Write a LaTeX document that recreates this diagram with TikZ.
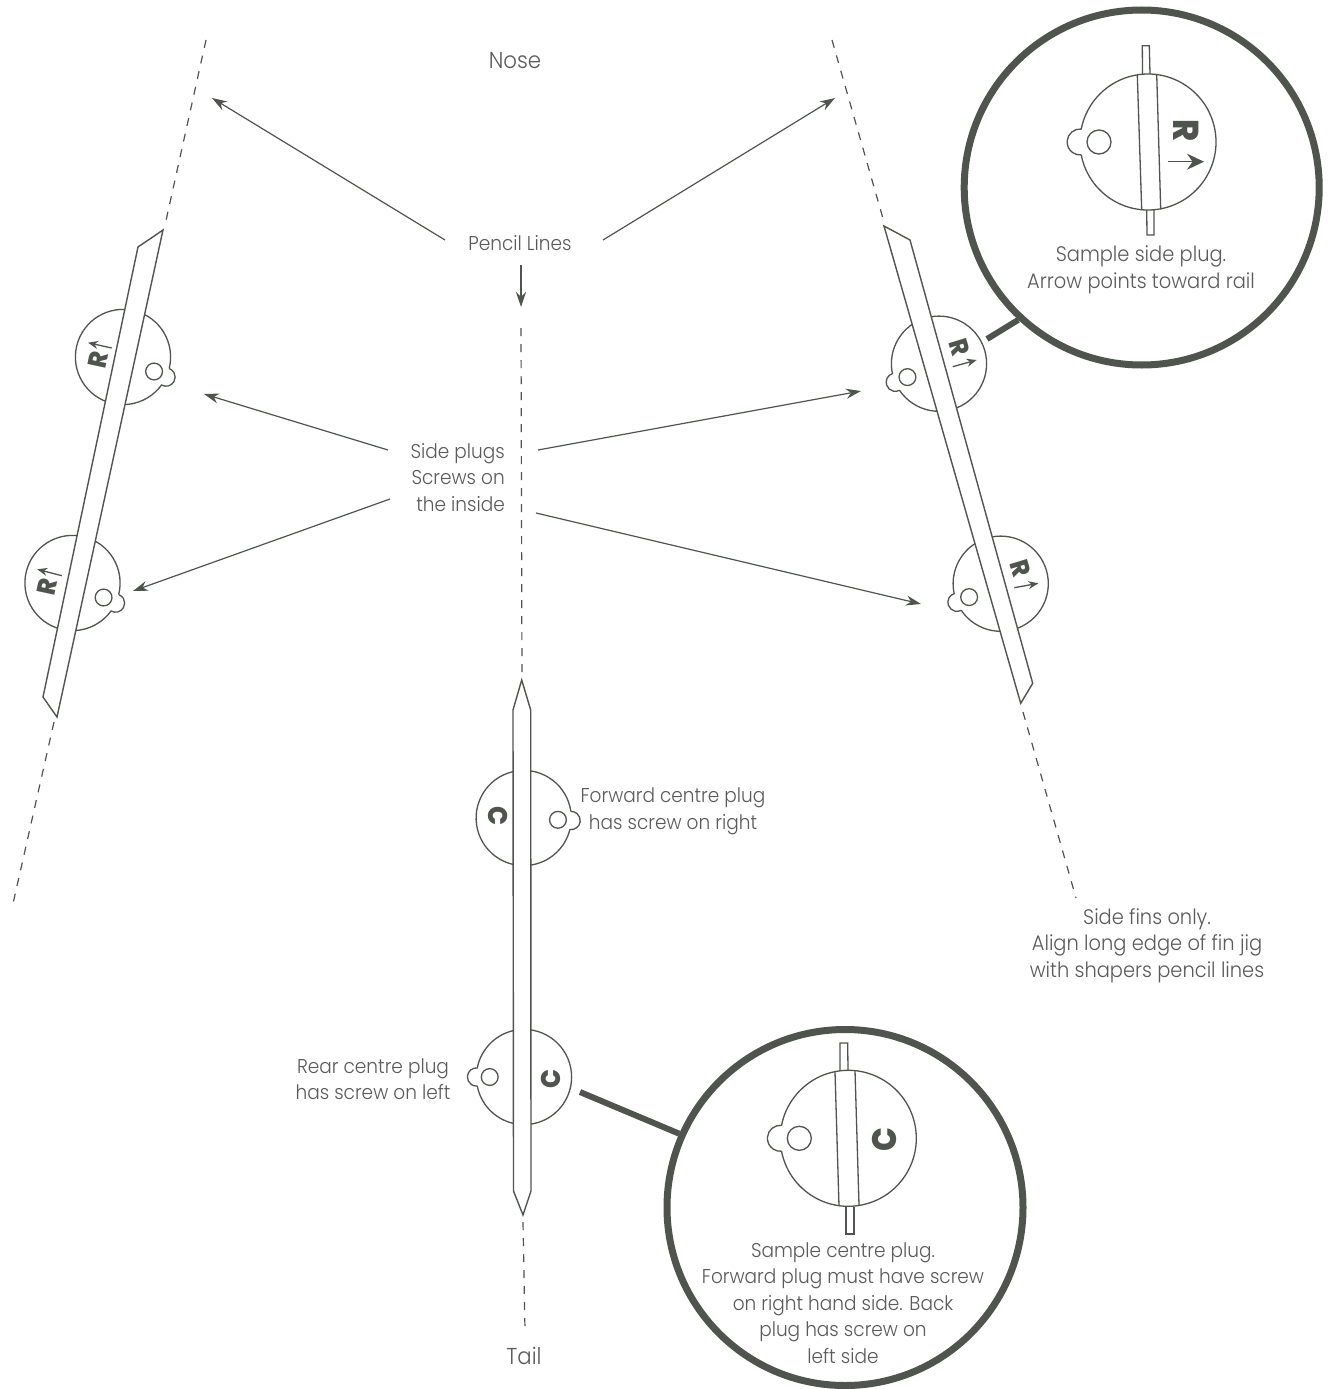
\documentclass[tikz,border=0pt]{standalone}
\usepackage{fontspec}
\setmainfont{Poppins}[UprightFont=* Light,BoldFont=* ExtraBold,FakeStretch=0.925]
\usetikzlibrary{arrows.meta}
\definecolor{ink}{HTML}{4F554E}
\definecolor{txt}{HTML}{5A5A5A}
\tikzset{
  thinline/.style={draw=ink,line width=1.3pt},
  dashline/.style={draw=ink,line width=1.2pt,dash pattern=on 8pt off 8pt},
  pointer/.style={draw=ink,line width=1.2pt,-{Stealth[length=15pt,width=10pt]}},
  finbody/.style={draw=ink,line width=1.4pt,fill=white,line join=miter},
  ring/.style={circle,draw=ink,line width=7pt,fill=white,inner sep=0pt},
  leader/.style={draw=ink,line width=6pt},
  caption/.style={text=txt,inner sep=0pt,align=center,font=\fontsize{20}{26.5}\selectfont},
  bigcaption/.style={text=txt,inner sep=0pt,align=center,font=\fontsize{21}{26.5}\selectfont},
  rmark/.style={text=ink,inner sep=0pt,font=\bfseries\fontsize{#1}{#1}\selectfont},
  rmark/.default=26,
  tinyarrow/.style={thinline,-{Stealth[length=10pt,width=8pt]}}
}
\newcommand{\plugbody}[4]{%
  \begin{scope}[shift={(#1,#2)},rotate=#3,x=#4pt,y=#4pt]
    \draw[thinline,fill=white] (11:68) arc[start angle=11,end angle=349,radius=68]
      arc[start angle=-95,end angle=95,radius=13];
    \draw[thinline] (49,0) circle[radius=12];
  \end{scope}}
\begin{document}
\begin{tikzpicture}[x=1pt,y=-1pt]
\useasboundingbox[fill=white] (0,0) rectangle (1330,1389);
% named end points
\coordinate (pa) at (445,240); \coordinate (pb) at (212,98);
\coordinate (pc) at (603,240); \coordinate (pd) at (835,98);
\coordinate (pe) at (521,265); \coordinate (pf) at (521,307);
\coordinate (sa) at (388,450); \coordinate (sb) at (204,394);
\coordinate (sc) at (390,499); \coordinate (sd) at (133,591);
\coordinate (se) at (538,450); \coordinate (sf) at (861,391);
\coordinate (sg) at (536,513); \coordinate (sh) at (921,604);
\coordinate (la) at (206,40);  \coordinate (lb) at (165,225);
\coordinate (lc) at (54,722);  \coordinate (ld) at (12,908);
\coordinate (ra) at (832,40);  \coordinate (rb) at (884,222);
\coordinate (rc) at (1023,712);\coordinate (rd) at (1076,898);
\coordinate (ca) at (521,328); \coordinate (cb) at (522,680);
\coordinate (cc) at (523,1222);\coordinate (cd) at (525,1330);
\coordinate (ka) at (987,339); \coordinate (kb) at (580,1092);
% dashed pencil lines
\draw[dashline] (la) -- (lb); \draw[dashline] (lc) -- (ld);
\draw[dashline] (ra) -- (rb); \draw[dashline] (rc) -- (rd);
\draw[dashline] (ca) -- (cb); \draw[dashline] (cc) -- (cd);
% pointers
\draw[pointer] (pa) -- (pb); \draw[pointer] (pc) -- (pd);
\draw[pointer,line width=1.6pt] (pe) -- (pf);
\draw[pointer] (sa) -- (sb); \draw[pointer] (sc) -- (sd);
\draw[pointer] (se) -- (sf); \draw[pointer] (sg) -- (sh);
% left fin
\plugbody{123}{357}{-25}{0.7}
\plugbody{72.5}{583}{-25}{0.7}
\draw[finbody] (163,230) -- (138,247) -- (43,697) -- (57,717) -- cycle;
\node[rmark,rotate=78] (r1) at (98,360) {R};
\node[rmark,rotate=78] (r2) at (47,587) {R};
\draw[tinyarrow] (111.7,348) -- (88,342.7);
\draw[tinyarrow] (61.7,575.7) -- (37.3,569.3);
% right fin
\plugbody{939}{363.7}{203}{0.7}
\plugbody{1000.7}{583.7}{203}{0.7}
\draw[finbody] (884,226) -- (910,240) -- (1032.7,683.3) -- (1020.7,703.3) -- cycle;
\node[rmark,rotate=-73] (r3) at (959.3,347.3) {R};
\node[rmark,rotate=-73] (r4) at (1020.7,568.3) {R};
\draw[tinyarrow] (952.7,366.7) -- (976.7,360);
\draw[tinyarrow] (1014.3,587.7) -- (1038.3,583.3);
% centre fin
\plugbody{523.7}{818}{-3}{0.7}
\plugbody{524}{1077}{180}{0.7}
\draw[finbody] (521.7,680) -- (530.7,710) -- (531,1191) -- (523,1215) -- (513.5,1191) -- (513,710) -- cycle;
\node[rmark=27,rotate=-90] (c1) at (498,816) {C};
\node[rmark=27,rotate=90] (c2) at (551,1079) {C};
% leaders and rings
\node[ring,minimum size=355pt] (sr) at (1141.7,187.5) {};
\node[ring,minimum size=356pt] (cr) at (845,1207.5) {};
\draw[leader] (ka) -- (sr.227);
\draw[leader] (kb) -- (cr.156);
% sample side plug
\plugbody{1148}{142}{180}{1}
\draw[thinline] (1137.3,75) -- (1141.7,210);
\draw[thinline] (1156.7,74) -- (1160.7,209.3);
\draw[thinline] (1142.5,74.5) -- (1142.3,45.7) -- (1149.3,45.7) -- (1150,74);
\draw[thinline] (1146.7,210) -- (1147,235) -- (1154,235) -- (1154,210);
\node[rmark=36,rotate=-90] (rs) at (1186,130.7) {R};
\draw[thinline,-{Stealth[length=17pt,width=16pt]}] (1168,161.7) -- (1204,161.7);
% sample centre plug
\plugbody{848.3}{1138.3}{180}{1}
\draw[thinline] (835,1071.7) -- (839,1206);
\draw[thinline] (855,1070.7) -- (859,1205);
\draw[thinline] (840,1071) -- (840,1043) -- (847.7,1043) -- (848,1071);
\draw[thinline] (846,1207) -- (846,1234) -- (854,1234) -- (854,1207);
\node[rmark=34,rotate=90] (cs) at (884,1140) {C};
% captions
\node[caption,font=\fontsize{23}{26}\selectfont] (nose) at (515,60.5) {Nose};
\node[caption,font=\fontsize{23}{26}\selectfont] (tail) at (524,1355.5) {Tail};
\node[caption] (pencil) at (520,243.5) {Pencil Lines};
\node[caption,align=right,anchor=east] (side) at (505,477.5) {Side plugs\\Screws on\\the inside};
\node[caption] (fwd) at (673,811.5) {Forward centre plug\\has screw on right};
\node[caption] (rear) at (373,1079) {Rear centre plug\\has screw on left};
\node[bigcaption] (finsonly) at (1147,945.5) {Side fins only.\\Align long edge of fin jig\\with shapers pencil lines};
\node[bigcaption] (ssp) at (1141,270) {Sample side plug.\\Arrow points toward rail};
\node[caption] (scp) at (843,1303) {Sample centre plug.\\Forward plug must have screw\\on right hand side. Back\\plug has screw on\\left side};
\end{tikzpicture}
\end{document}
